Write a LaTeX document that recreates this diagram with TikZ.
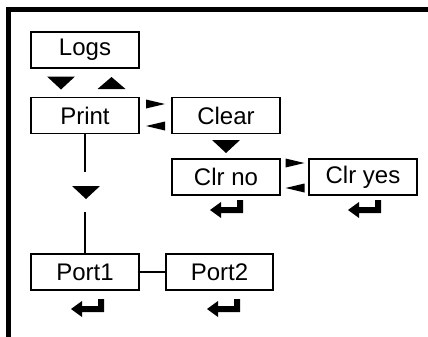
\documentclass[tikz,border=0pt]{standalone}
\usepackage{fontspec}
\setmainfont{Liberation Sans}
\usepackage{tikz}
\usetikzlibrary{positioning}
\tikzset{
  menubox/.style={draw=black, line width=1.2pt, fill=white, inner sep=0pt,
    minimum width=108pt, minimum height=36pt, font=\fontsize{24}{28}\selectfont},
  wire/.style={draw=black, line width=1.2pt},
  frame/.style={draw=black, line width=5pt, line join=miter}
}
% small black glyphs (arrow keys and the enter key)
\newcommand{\keydown}[1]{\fill #1 ++(-14,-6.5) -- ++(28,0) -- ++(-14,13) -- cycle;}
\newcommand{\keyup}[1]{\fill #1 ++(-14,6) -- ++(28,0) -- ++(-14,-12) -- cycle;}
\newcommand{\keyright}[1]{\fill #1 ++(-9.5,-4.5) -- ++(0,9) -- ++(19,-4.5) -- cycle;}
\newcommand{\keyleft}[1]{\fill #1 ++(9.5,-4.5) -- ++(0,9) -- ++(-19,-4.5) -- cycle;}
\newcommand{\keyenter}[1]{\fill #1 -- ++(11,-8) -- ++(0,5) -- ++(16,0) -- ++(0,-7)
  -- ++(6,0) -- ++(0,13) -- ++(-22,0) -- ++(0,5) -- cycle;}

\begin{document}
\begin{tikzpicture}[x=1pt, y=-1pt]
  \useasboundingbox (0,0) rectangle (428,337);
  \draw[frame] (428,10) -- (8.5,10) -- (8.5,337);

  \node[menubox] (logs) at (85,50) {Logs};
  \node[menubox] (print) at (85,115.5) {Print};
  \node[menubox] (clear) at (226,115.5) {Clear};
  \node[menubox] (clrno) at (226,177) {Clr no};
  \node[menubox] (clryes) at (363,177) {Clr yes};
  \node[menubox] (port1) at (85,272) {Port1};
  \node[menubox, minimum width=107pt] (port2) at (219.5,272) {Port2};

  \coordinate (gaptop) at (85,172);
  \coordinate (gapbot) at (85,212);
  \draw[wire] (print.south) -- (gaptop);
  \draw[wire] (gapbot) -- (port1.north);
  \draw[wire] (port1.east) -- (port2.west);

  \keydown{(61,83)}
  \keyup{(111.5,83)}
  \keyright{(155.5,104)}
  \keyleft{(155.5,126)}
  \keydown{(226,146.5)}
  \keyright{(295,163)}
  \keyleft{(295,188)}
  \keydown{(86,192.5)}

  \keyenter{(210,210)}
  \keyenter{(348,210)}
  \keyenter{(71,309)}
  \keyenter{(207,309)}
\end{tikzpicture}
\end{document}
